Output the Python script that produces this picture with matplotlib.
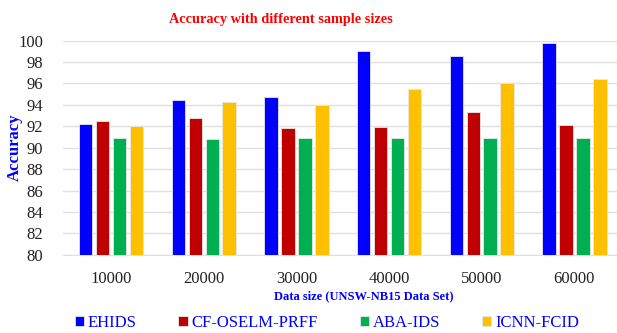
import numpy as np
import matplotlib
matplotlib.use("Agg")
import matplotlib.pyplot as plt

# accuracy per sample size, UNSW-NB15
sizes = ["10000", "20000", "30000", "40000", "50000", "60000"]
ehids = [92.2, 94.5, 94.7, 99.0, 98.6, 99.8]
cf_oselm = [92.5, 92.8, 91.8, 91.9, 93.3, 92.1]
aba_ids = [90.9, 90.8, 90.9, 90.9, 90.9, 90.9]
icnn_fcid = [92.0, 94.3, 94.0, 95.5, 96.0, 96.4]

names = ["EHIDS", "CF-OSELM-PRFF", "ABA-IDS", "ICNN-FCID"]
colors = ["#0000ff", "#c00000", "#00b050", "#ffc000"]

plt.rcParams['font.family'] = ['Liberation Serif', 'DejaVu Serif']

fig = plt.figure(figsize=(6.17, 3.33), dpi=100)
ax = fig.add_axes([0.102, 0.235, 0.898, 0.643])

x = np.arange(len(sizes))
width = 0.145
step = 0.183
for i, (vals, name, col) in enumerate(zip([ehids, cf_oselm, aba_ids, icnn_fcid], names, colors)):
    ax.bar(x + (i - 1.5) * step, vals, width, bottom=0, color=col,
           edgecolor="#e8e8e8", linewidth=0.6, label=name, zorder=3)

ax.set_ylim(80, 100)
ax.set_yticks(np.arange(80, 101, 2))
ax.set_xlim(-0.52, 5.46)
ax.set_xticks(x)
ax.set_xticklabels(sizes)
ax.tick_params(axis='both', length=0, labelsize=12, colors="#222222")
ax.tick_params(axis='x', pad=12)
ax.tick_params(axis='y', pad=14)
ax.grid(axis='y', color="#e0e0e0", linewidth=1, zorder=0)
for s in ["top", "right", "left"]:
    ax.spines[s].set_visible(False)
ax.spines["bottom"].set_color("#e0e0e0")

fig.text(281 / 617, 1 - 19 / 333, "Accuracy with different sample sizes", color="red",
         fontweight="bold", fontsize=10.3, ha="center", va="center")
fig.text(15 / 617, 1 - 147 / 333, "Accuracy", color="#0000ff", fontweight="bold",
         fontsize=12, rotation=90, ha="center", va="center")
fig.text(364 / 617, 1 - 296 / 333, "Data size (UNSW-NB15 Data Set)", color="#0000ff",
         fontweight="bold", fontsize=9, ha="center", va="center")

leg = fig.legend(loc="lower center", ncol=4, bbox_to_anchor=(0.53, -0.04),
                 frameon=False, fontsize=12, handlelength=0.55, handleheight=0.55,
                 handletextpad=0.25, columnspacing=2.5)
for t in leg.get_texts():
    t.set_color("#0000ff")

fig.savefig("out.png", dpi=100)
